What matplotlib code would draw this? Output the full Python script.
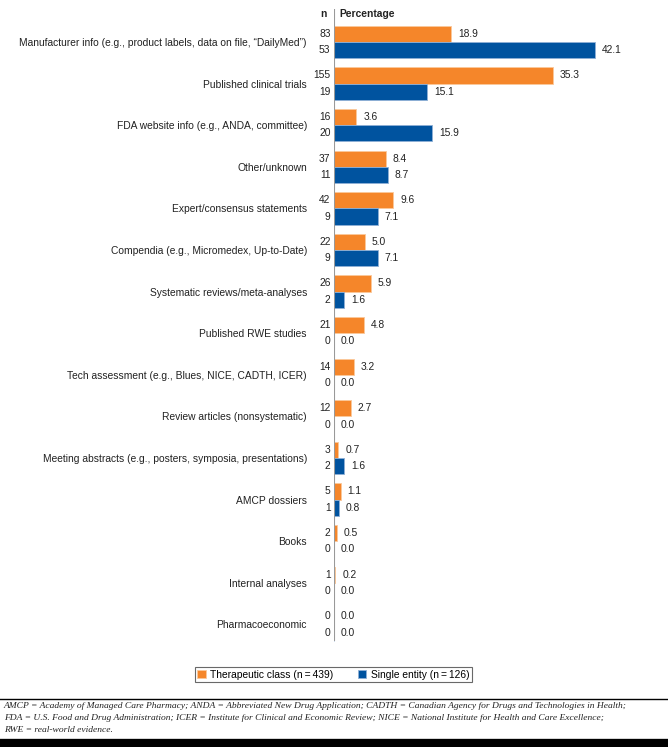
import matplotlib.pyplot as plt
from matplotlib.lines import Line2D
import numpy as np

plt.rcParams['font.family'] = ['Liberation Sans', 'DejaVu Sans']

categories = [
    'Manufacturer info (e.g., product labels, data on file, \u201cDailyMed\u201d)',
    'Published clinical trials',
    'FDA website info (e.g., ANDA, committee)',
    'Other/unknown',
    'Expert/consensus statements',
    'Compendia (e.g., Micromedex, Up-to-Date)',
    'Systematic reviews/meta-analyses',
    'Published RWE studies',
    'Tech assessment (e.g., Blues, NICE, CADTH, ICER)',
    'Review articles (nonsystematic)',
    'Meeting abstracts (e.g., posters, symposia, presentations)',
    'AMCP dossiers',
    'Books',
    'Internal analyses',
    'Pharmacoeconomic',
]
class_n = [83, 155, 16, 37, 42, 22, 26, 21, 14, 12, 3, 5, 2, 1, 0]
class_pct = [18.9, 35.3, 3.6, 8.4, 9.6, 5.0, 5.9, 4.8, 3.2, 2.7, 0.7, 1.1, 0.5, 0.2, 0.0]
single_n = [53, 19, 20, 11, 9, 9, 2, 0, 0, 0, 2, 1, 0, 0, 0]
single_pct = [42.1, 15.1, 15.9, 8.7, 7.1, 7.1, 1.6, 0.0, 0.0, 0.0, 1.6, 0.8, 0.0, 0.0, 0.0]

footnote = ('AMCP = Academy of Managed Care Pharmacy; ANDA = Abbreviated New Drug Application; '
            'CADTH = Canadian Agency for Drugs and Technologies in Health;\n'
            'FDA = U.S. Food and Drug Administration; ICER = Institute for Clinical and Economic Review; '
            'NICE = National Institute for Health and Care Excellence;\n'
            'RWE = real-world evidence.')

ORANGE = '#F5862A'
BLUE = '#00539F'
TXT = '#222222'
FS = 7.4

W, H = 668, 747
fig = plt.figure(figsize=(W / 100, H / 100), dpi=100)

# axes from x=334px to right edge, y px 0..645
ax = fig.add_axes([334 / W, 1 - 645 / H, (W - 334) / W, 645 / H])
y = np.arange(len(categories))
bh = 0.39
ax.barh(y - bh / 2, class_pct, height=bh, color=ORANGE, edgecolor='#FBC89A', linewidth=0.6,
        label='Therapeutic class (n\u2009=\u2009439)')
ax.barh(y + bh / 2, single_pct, height=bh, color=BLUE, edgecolor='#8FB0D6', linewidth=0.6,
        label='Single entity (n\u2009=\u2009126)')

ax.set_xlim(0, (W - 334) / 6.19)
ax.set_ylim((645 - 42) / 41.6, -42 / 41.6)
ax.set_xticks([])
ax.set_yticks(y)
ax.set_yticklabels(categories, fontsize=FS, color=TXT)
ax.tick_params(axis='y', length=0, pad=19.5)
for s in ax.spines.values():
    s.set_visible(False)

ax.vlines(0, -0.8, 14.4, color='#999999', linewidth=1.5, zorder=3)

for i in range(len(categories)):
    for yy, n, p in [(i - bh / 2, class_n[i], class_pct[i]), (i + bh / 2, single_n[i], single_pct[i])]:
        ax.annotate(str(n), (0, yy), xytext=(-2.5, 0), textcoords='offset points',
                    ha='right', va='center', fontsize=FS, color=TXT)
        ax.annotate(f'{p:.1f}', (p, yy), xytext=(5, 0), textcoords='offset points',
                    ha='left', va='center', fontsize=FS, color=TXT)

ax.annotate('n', (0, -0.67), xytext=(-5, 0), textcoords='offset points',
            ha='right', va='center', fontsize=FS, fontweight='bold', color=TXT)
ax.annotate('Percentage', (0, -0.67), xytext=(4, 0), textcoords='offset points',
            ha='left', va='center', fontsize=FS, fontweight='bold', color=TXT)

leg = fig.legend(loc='center', bbox_to_anchor=(333.5 / W, 1 - 674.5 / H), ncol=2,
                 fontsize=FS, frameon=True, fancybox=False, edgecolor='#444444',
                 handlelength=0.8, handleheight=0.8, handletextpad=0.45, columnspacing=2.4,
                 borderpad=0.2, borderaxespad=0)
leg.get_frame().set_linewidth(0.8)

fig.add_artist(Line2D([0, 1], [1 - 699 / H, 1 - 699 / H], color='black', linewidth=1.0))
fig.add_artist(Line2D([0, 1], [1 - 743 / H, 1 - 743 / H], color='black', linewidth=6))
fig.text(4 / W, 1 - 701.5 / H, footnote, ha='left', va='top', fontsize=6.8,
         family='Liberation Serif', style='italic', color=TXT, linespacing=1.75)

fig.savefig('out.png', dpi=100)
